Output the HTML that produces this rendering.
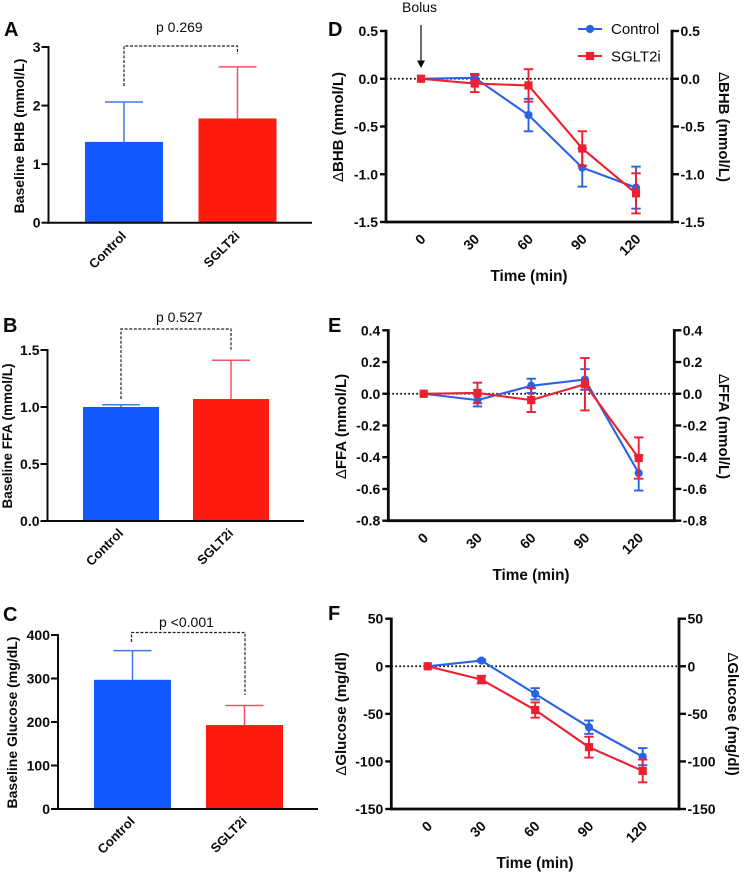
<!DOCTYPE html>
<html lang="en">
<head>
<meta charset="utf-8">
<title>Baseline and change in BHB, FFA and glucose</title>
<style>
html,body{margin:0;padding:0;background:#fff;}
#figure{display:block;width:744px;height:873px;}
text{font-family:"Liberation Sans",Arial,sans-serif;fill:#0a0a0a;}
</style>
</head>
<body>
<svg id="figure" xmlns="http://www.w3.org/2000/svg" width="744" height="873" viewBox="0 0 744 873"></svg>
<script>
// ---------- chart data ----------
const barCategories = ['Control', 'SGLT2i'];
const bhbBars = [1.38, 1.78];
const bhbBarTops = [2.06, 2.66];
const ffaBars = [1.0, 1.07];
const ffaBarTops = [1.02, 1.41];
const glucoseBars = [297, 193];
const glucoseBarTops = [364, 238];
const bhbBarTicks = [0, 1, 2, 3];
const ffaBarTicks = ['0.0', '0.5', '1.0', '1.5'];
const glucoseBarTicks = [0, 100, 200, 300, 400];

const timePoints = [0, 30, 60, 90, 120];
const dBhbControl = [0, 0.01, -0.38, -0.93, -1.14];
const dBhbControlErr = [0, 0.04, 0.17, 0.2, 0.22];
const dBhbSglt = [0, -0.05, -0.07, -0.73, -1.2];
const dBhbSgltErr = [0, 0.09, 0.17, 0.18, 0.21];
const dFfaControl = [0, -0.04, 0.05, 0.09, -0.5];
const dFfaControlErr = [0, 0.04, 0.045, 0.065, 0.11];
const dFfaSglt = [0, 0.005, -0.04, 0.06, -0.405];
const dFfaSgltErr = [0, 0.065, 0.075, 0.165, 0.13];
const dGluControl = [0, 6, -29, -64, -95];
const dGluControlErr = [0, 1, 6, 7, 9];
const dGluSglt = [0, -14, -46, -85, -110];
const dGluSgltErr = [0, 4, 8, 11, 12];
const dBhbTicks = ['-1.5', '-1.0', '-0.5', '0.0', '0.5'];
const dFfaTicks = ['-0.8', '-0.6', '-0.4', '-0.2', '0.0', '0.2', '0.4'];
const dGluTicks = ['-150', '-100', '-50', '0', '50'];

// ---------- helpers ----------
const BLUE = '#1358ff', RED = '#ff1a10', LBLUE = '#2a62e6', LRED = '#ee1f2e';
const svg = document.getElementById('figure');
const NS = 'http://www.w3.org/2000/svg';
function make(tag, attrs, parent, content) {
  const n = document.createElementNS(NS, tag);
  for (const k in attrs) n.setAttribute(k, attrs[k]);
  if (content !== undefined) n.textContent = content;
  (parent || svg).appendChild(n);
  return n;
}
function line(p, x1, y1, x2, y2, stroke, w, extra) {
  return make('line', Object.assign({x1, y1, x2, y2, stroke, 'stroke-width': w}, extra || {}), p);
}
function linear(d0, d1, r0, r1) {
  return v => r0 + (Number(v) - d0) / (d1 - d0) * (r1 - r0);
}

function panelLetter(letter, x, y) {
  const t = make('text', {x, y, 'font-size': 20, 'font-weight': 700}, svg, letter);
  
  
}

function barChart(c) {
  const g = make('g', {});
  
  
  const y = linear(c.yMin, c.yMax, c.bottom, c.top);
  c.values.forEach((v, i) => {
    const cx = c.centers[i];
    const col = i === 0 ? BLUE : RED;
    const errCol = i === 0 ? '#4478e8' : '#ee5468';
    const err = line(g, cx, y(c.tops[i]), cx, y(v), errCol, 1.5);
    
    
    const cap = line(g, cx - 19, y(c.tops[i]), cx + 19, y(c.tops[i]), errCol, 1.5);
    
    
    const b = make('rect', {x: cx - c.barW / 2, y: y(v), width: c.barW, height: y(c.yMin) - y(v), fill: col}, g);
    
    
    const lab = make('text', {
      x: cx + c.labDx, y: c.bottom + c.labDy, 'font-size': 13, 'font-weight': 700, 'text-anchor': 'end',
      transform: 'rotate(-45 ' + (cx + c.labDx) + ' ' + (c.bottom + c.labDy) + ')'
    }, g, barCategories[i]);
    
    
  });
  const ya = line(g, c.axisX, c.top - 1, c.axisX, c.bottom + 1, '#0a0a0a', 2);
  
  
  const xa = line(g, c.axisX - 1, c.bottom, c.axisEnd, c.bottom, '#0a0a0a', 2);
  
  
  c.ticks.forEach(t => {
    line(g, c.axisX - 7, y(t), c.axisX, y(t), '#0a0a0a', 2);
    const tl = make('text', {x: c.axisX - 8, y: y(t) + 5, 'font-size': 14, 'font-weight': 700, 'text-anchor': 'end'}, g, t);
    
    
  });
  const ttl = make('text', {
    x: c.titleX, y: c.titleY, 'font-size': c.titleSize, 'font-weight': 700, 'text-anchor': 'middle',
    transform: 'rotate(-90 ' + c.titleX + ' ' + c.titleY + ')'
  }, g, c.title);
  
  
  const br = make('path', {d: c.bracket, fill: 'none', stroke: '#222', 'stroke-width': 1.2, 'stroke-dasharray': '3 1.6'}, g);
  
  
  const pv = make('text', {x: c.pX, y: c.pY, 'font-size': 14}, g, c.pText);
  
  
}

function series(g, c, x, y, vals, errs, color, marker, name) {
  const s = make('g', {}, g);
  
  
  const pts = timePoints.map((t, i) => x(t) + ',' + y(vals[i])).join(' ');
  make('polyline', {points: pts, fill: 'none', stroke: color, 'stroke-width': 2.1}, s);
  timePoints.forEach((t, i) => {
    const px = x(t), hi = y(vals[i] + errs[i]), lo = y(vals[i] - errs[i]);
    if (errs[i] > 0) {
      line(s, px, hi, px, lo, color, 1.9);
      line(s, px - 4.7, hi, px + 4.7, hi, color, 1.9);
      line(s, px - 4.7, lo, px + 4.7, lo, color, 1.9);
    }
    let m;
    if (marker === 'circle') {
      m = make('circle', {cx: px, cy: y(vals[i]), r: 4.1, fill: color}, s);
    } else {
      m = make('rect', {x: px - 4.1, y: y(vals[i]) - 4.1, width: 8.2, height: 8.2, fill: color}, s);
    }
    
    
  });
}

function lineChart(c) {
  const g = make('g', {});
  
  
  const y = linear(c.yMin, c.yMax, c.bottom, c.top);
  const x = linear(0, 120, c.x0, c.x120);
  const zero = line(g, c.left, y(0), c.right, y(0), '#0a0a0a', 1.7, {'stroke-dasharray': '1.7 2.3'});
  
  
  series(g, c, x, y, c.control, c.controlErr, LBLUE, 'circle', 'control');
  series(g, c, x, y, c.sglt, c.sgltErr, LRED, 'square', 'sglt2i');
  const la = line(g, c.left, c.top - 1.2, c.left, c.bottom + 1.4, '#0a0a0a', 2.8);
  
  
  const ra = line(g, c.right, c.top - 1.2, c.right, c.bottom + 1.4, '#0a0a0a', 2.8);
  
  
  const xa = line(g, c.left, c.bottom, c.right, c.bottom, '#0a0a0a', 2.8);
  
  
  c.ticks.forEach(t => {
    line(g, c.left - 6, y(t), c.left, y(t), '#0a0a0a', 2.4);
    line(g, c.right, y(t), c.right + 7, y(t), '#0a0a0a', 2.4);
    const a = make('text', {x: c.left - 8, y: y(t) + 5, 'font-size': 14, 'font-weight': 700, 'text-anchor': 'end'}, g, t);
    
    
    const b = make('text', {x: c.right + 8.5, y: y(t) + 5, 'font-size': 14, 'font-weight': 700}, g, t);
    
    
  });
  timePoints.forEach(t => {
    const ax = x(t) + 5.5, ay = c.bottom + 18;
    const l = make('text', {x: ax, y: ay, 'font-size': 14, 'font-weight': 700, 'text-anchor': 'end', transform: 'rotate(-45 ' + ax + ' ' + ay + ')'}, g, t);
    
    
  });
  const tx = make('text', {x: c.timeX, y: c.timeY, 'font-size': 15.3, 'font-weight': 700, 'text-anchor': 'middle'}, g, 'Time (min)');
  
  
  const lt = make('text', {x: c.lTitleX, y: c.titleY, 'font-size': 15, 'font-weight': 700, 'text-anchor': 'middle', transform: 'rotate(-90 ' + c.lTitleX + ' ' + c.titleY + ')'}, g);
  
  
  make('tspan', {'font-weight': 400}, lt, '\u0394');
  make('tspan', {}, lt, c.title);
  const rt = make('text', {x: c.rTitleX, y: c.titleY, 'font-size': 15, 'font-weight': 700, 'text-anchor': 'middle', transform: 'rotate(90 ' + c.rTitleX + ' ' + c.titleY + ')'}, g);
  
  
  make('tspan', {'font-weight': 400}, rt, '\u0394');
  make('tspan', {}, rt, c.title);
}

// ---------- panels ----------
barChart({name: 'panel-a-baseline-bhb', values: bhbBars, tops: bhbBarTops, ticks: bhbBarTicks,
  yMin: 0, yMax: 3, top: 47, bottom: 222.7, axisX: 48.5, axisEnd: 312, centers: [124, 237.5], barW: 78,
  labDx: 3, labDy: 14, title: 'Baseline BHB (mmol/L)', titleX: 24, titleY: 136, titleSize: 14,
  bracket: 'M124 86V46H237.5V54', pText: 'p 0.269', pX: 156, pY: 32});
barChart({name: 'panel-b-baseline-ffa', values: ffaBars, tops: ffaBarTops, ticks: ffaBarTicks,
  yMin: 0, yMax: 1.5, top: 350, bottom: 521, axisX: 47.5, axisEnd: 304, centers: [121, 231], barW: 76,
  labDx: 3, labDy: 13, title: 'Baseline FFA (mmol/L)', titleX: 12, titleY: 436, titleSize: 13.5,
  bracket: 'M121 399V329H231V350', pText: 'p 0.527', pX: 156, pY: 322});
barChart({name: 'panel-c-baseline-glucose', values: glucoseBars, tops: glucoseBarTops, ticks: glucoseBarTicks,
  yMin: 0, yMax: 400, top: 635, bottom: 809, axisX: 58, axisEnd: 318, centers: [132.5, 244.5], barW: 77,
  labDx: 3, labDy: 13, title: 'Baseline Glucose (mg/dL)', titleX: 17, titleY: 722.5, titleSize: 14,
  bracket: 'M131.5 642V632.5H245V695', pText: 'p <0.001', pX: 159, pY: 627});

lineChart({name: 'panel-d-delta-bhb', control: dBhbControl, controlErr: dBhbControlErr, sglt: dBhbSglt, sgltErr: dBhbSgltErr,
  ticks: dBhbTicks, yMin: -1.5, yMax: 0.5, top: 31, bottom: 222, left: 386, right: 672, x0: 421, x120: 636,
  title: 'BHB (mmol/L)', lTitleX: 343, rTitleX: 719, titleY: 127, timeX: 529, timeY: 281});
lineChart({name: 'panel-e-delta-ffa', control: dFfaControl, controlErr: dFfaControlErr, sglt: dFfaSglt, sgltErr: dFfaSgltErr,
  ticks: dFfaTicks, yMin: -0.8, yMax: 0.4, top: 330.3, bottom: 520.7, left: 388.3, right: 674.3, x0: 423.7, x120: 638.7,
  title: 'FFA (mmol/L)', lTitleX: 346, rTitleX: 719, titleY: 426.5, timeX: 531, timeY: 580});
lineChart({name: 'panel-f-delta-glucose', control: dGluControl, controlErr: dGluControlErr, sglt: dGluSglt, sgltErr: dGluSgltErr,
  ticks: dGluTicks, yMin: -150, yMax: 50, top: 618.7, bottom: 809, left: 391.3, right: 679, x0: 427.7, x120: 642.7,
  title: 'Glucose (mg/dl)', lTitleX: 346, rTitleX: 728, titleY: 714, timeX: 535, timeY: 868});

panelLetter('A', 4, 36);
panelLetter('B', 3, 332);
panelLetter('C', 3, 621);
panelLetter('D', 328, 36);
panelLetter('E', 328, 332);
panelLetter('F', 328, 620);

// ---------- bolus annotation ----------
const bolusText = make('text', {x: 402, y: 12, 'font-size': 14}, svg, 'Bolus');


const bolusLine = line(svg, 421, 25, 421, 62, '#0a0a0a', 1.2);


const bolusHead = make('polygon', {points: '417,60.5 425,60.5 421,68', fill: '#0a0a0a'});



// ---------- legend ----------
const legend = make('g', {});


const legControl = make('g', {}, legend);


line(legControl, 578, 29, 602, 29, LBLUE, 2.1);
make('circle', {cx: 590, cy: 29, r: 4.1, fill: LBLUE}, legControl);
make('text', {x: 611, y: 34, 'font-size': 15}, legControl, 'Control');
const legSglt = make('g', {}, legend);


line(legSglt, 578, 56, 602, 56, LRED, 2.1);
make('rect', {x: 585.9, y: 51.9, width: 8.2, height: 8.2, fill: LRED}, legSglt);
make('text', {x: 611, y: 61.5, 'font-size': 15}, legSglt, 'SGLT2i');
</script>
</body>
</html>
